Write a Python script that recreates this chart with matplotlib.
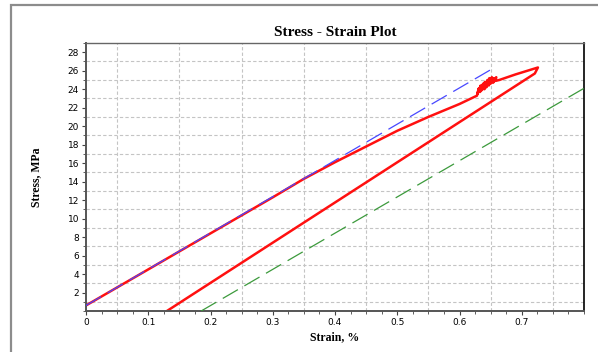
import numpy as np
import matplotlib
matplotlib.use("Agg")
import matplotlib.pyplot as plt
from matplotlib.ticker import MultipleLocator, FixedLocator
from matplotlib.patches import Rectangle

# loading branch
load_strain = [0, 0.1, 0.2, 0.3, 0.35, 0.4, 0.45, 0.5, 0.55, 0.6, 0.628]
load_stress = [0.6, 4.5, 8.4, 12.3, 14.3, 16.1, 17.8, 19.5, 21.0, 22.4, 23.3]
# noisy hold region near 0.63-0.67 %
noise_strain = [0.631, 0.629, 0.634, 0.633, 0.638, 0.636, 0.641, 0.640, 0.645, 0.643,
                0.648, 0.647, 0.652, 0.650, 0.655, 0.654, 0.659, 0.658, 0.664]
noise_stress = [24.1, 23.5, 24.4, 23.7, 24.6, 23.9, 24.8, 24.0, 25.0, 24.2,
                25.2, 24.4, 25.3, 24.6, 25.2, 24.7, 25.3, 24.9, 25.0]
# top of the loop and unloading branch
peak_strain = [0.69, 0.726, 0.721, 0.13]
peak_stress = [25.6, 26.35, 25.7, 0.0]

# linear fit (blue) and 0.2 % offset line (green)
fit_strain = [0.0, 0.655]
fit_stress = [0.6, 26.3]
offset_strain = [0.185, 0.8]
offset_stress = [0.0, 24.1]

strain = load_strain + noise_strain + peak_strain
stress = load_stress + noise_stress + peak_stress

fig = plt.figure(figsize=(5.98, 3.52), dpi=100)
fig.patches.append(Rectangle((11 / 598, -0.01), 1.0, 1 - 5 / 352 + 0.01,
                             transform=fig.transFigure, fill=False,
                             edgecolor="#8c8c8c", lw=1.6))
ax = fig.add_axes([86 / 598, 41 / 352, 498 / 598, 268 / 352])

ax.plot(fit_strain, fit_stress, color="#4848ff", lw=0.9, dashes=(14, 6), zorder=3)
ax.plot(strain, stress, color="#ff1010", lw=1.8, zorder=2)
ax.plot(offset_strain, offset_stress, color="#3c9a3c", lw=0.9, dashes=(14, 6), zorder=3)

ax.set_xlim(0, 0.8)
ax.set_ylim(0, 29)
ax.xaxis.set_major_locator(FixedLocator([0, 0.1, 0.2, 0.3, 0.4, 0.5, 0.6, 0.7]))
ax.xaxis.set_minor_locator(MultipleLocator(0.025))
ax.yaxis.set_major_locator(FixedLocator(np.arange(2, 29, 2)))
ax.yaxis.set_minor_locator(MultipleLocator(1))
ax.set_xticklabels(["0", "0.1", "0.2", "0.3", "0.4", "0.5", "0.6", "0.7"])

# grid sits between the labelled ticks
for gx in np.arange(0.05, 0.8, 0.1):
    ax.axvline(gx, color="#c4c4c4", lw=0.8, dashes=(3, 2), zorder=1)
for gy in np.arange(1, 29, 2):
    ax.axhline(gy, color="#c4c4c4", lw=0.8, dashes=(3, 2), zorder=1)

ax.tick_params(axis="both", which="major", length=3, width=0.8, color="#444444",
               labelsize=6.5, pad=2)
ax.tick_params(axis="both", which="minor", length=2, width=0.6, color="#444444")
for side in ["left", "bottom"]:
    ax.spines[side].set_color("#555555")
    ax.spines[side].set_linewidth(1.4)
ax.spines["top"].set_color("#666666")
ax.spines["top"].set_linewidth(1.0)
ax.spines["right"].set_color("black")
ax.spines["right"].set_linewidth(1.2)

ax.set_title("Stress - Strain Plot", family="Liberation Serif", fontweight="bold",
             fontsize=11, pad=5)
ax.set_xlabel("Strain, %", family="Liberation Serif", fontweight="bold", fontsize=8.5,
              labelpad=3)
ax.set_ylabel("Stress, MPa", family="Liberation Serif", fontweight="bold", fontsize=8.5,
              labelpad=18)

fig.savefig("out.png", dpi=100)
